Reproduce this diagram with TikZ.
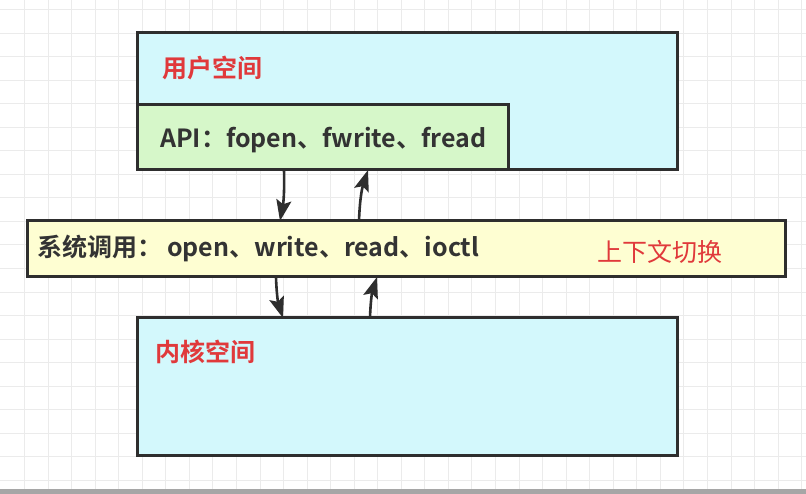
\documentclass[tikz,border=0pt]{standalone}
\usepackage{fontspec}
\setmainfont{Noto Sans CJK SC}
\newfontfamily\cjkb{Noto Sans CJK SC Bold}
\usetikzlibrary{arrows.meta}
\definecolor{gridc}{HTML}{EBEBEB}
\definecolor{cyanf}{HTML}{D3F8FC}
\definecolor{greenf}{HTML}{D6F7C9}
\definecolor{yellowf}{HTML}{FEFED2}
\definecolor{edge}{HTML}{2E2E2E}
\definecolor{redt}{HTML}{E0393B}
\definecolor{darkt}{HTML}{333333}
\begin{document}
\begin{tikzpicture}[x=1pt,y=-1pt,
  boxs/.style={draw=edge,line width=3pt,anchor=north west,inner sep=0pt,outer sep=0pt},
  tred/.style={anchor=west,inner sep=0pt,text=redt,font=\cjkb\fontsize{25}{28}\selectfont},
  tdark/.style={anchor=west,inner sep=0pt,text=darkt,font=\cjkb\fontsize{25}{28}\selectfont},
  tredl/.style={anchor=west,inner sep=0pt,text=redt,font=\fontsize{25}{28}\selectfont},
  arr/.style={draw=edge,line width=2.6pt,-{Stealth[length=21pt,width=15pt,inset=4pt]}}]
\useasboundingbox (0,0) rectangle (806,494);
\fill[white] (0,0) rectangle (806,494);
\foreach \i in {0,...,33} {\draw[gridc,line width=1pt] (24.5+23.55*\i,0) -- (24.5+23.55*\i,489);}
\foreach \j in {0,...,20} {\draw[gridc,line width=1pt] (0,9.5+23.55*\j) -- (806,9.5+23.55*\j);}
\fill[black!35] (0,489) rectangle (806,494);
% boxes
\node[boxs,fill=cyanf,minimum width=540pt,minimum height=137pt] (user) at (137,33) {};
\node[boxs,fill=greenf,minimum width=371pt,minimum height=65pt] (api) at (137,105) {};
\node[boxs,fill=yellowf,minimum width=758pt,minimum height=56pt] (sys) at (27,221) {};
\node[boxs,fill=cyanf,minimum width=540pt,minimum height=137pt] (kern) at (137,318) {};
% texts
\node[tred] (tuser) at (162,68) {用户空间};
\node[tdark] (tapi) at (160,140) {API：fopen、fwrite、fread};
\node[tdark] (tsys) at (37,248) {系统调用：\hspace{5pt}open、write、read、ioctl};
\node[tredl] (tctx) at (597,252) {上下文切换};
\node[tred] (tkern) at (155,352) {内核空间};
% arrows
\draw[arr] ([xshift=147pt]api.south west) to[bend left=6] ([xshift=253pt]sys.north west);
\draw[arr] ([xshift=332pt]sys.north west) to[bend left=8] ([xshift=231pt]api.south west);
\draw[arr] ([xshift=249pt]sys.south west) to[bend right=8] ([xshift=146pt]kern.north west);
\draw[arr] ([xshift=233pt]kern.north west) to[bend left=8] ([xshift=350pt]sys.south west);
\end{tikzpicture}
\end{document}
